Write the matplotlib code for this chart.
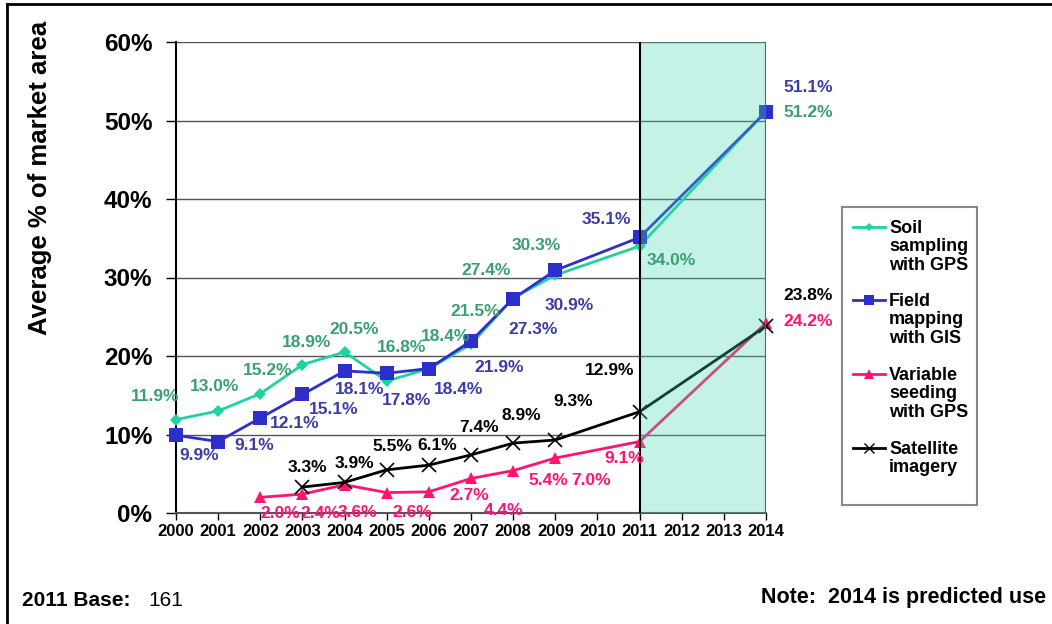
import numpy as np
import matplotlib
matplotlib.use("Agg")
import matplotlib.pyplot as plt
from matplotlib.lines import Line2D
from matplotlib.patches import Rectangle

plt.rcParams['font.family'] = ['Liberation Sans', 'DejaVu Sans']

W, H = 1052, 624
years = list(range(2000, 2015))

# survey values, % of market area
soil_years = [2000, 2001, 2002, 2003, 2004, 2005, 2006, 2007, 2008, 2009, 2011, 2014]
soil_vals = [11.9, 13.0, 15.2, 18.9, 20.5, 16.8, 18.4, 21.5, 27.4, 30.3, 34.0, 51.2]

field_years = [2000, 2001, 2002, 2003, 2004, 2005, 2006, 2007, 2008, 2009, 2011, 2014]
field_vals = [9.9, 9.1, 12.1, 15.1, 18.1, 17.8, 18.4, 21.9, 27.3, 30.9, 35.1, 51.1]

seed_years = [2002, 2003, 2004, 2005, 2006, 2007, 2008, 2009, 2011, 2014]
seed_vals = [2.0, 2.4, 3.6, 2.6, 2.7, 4.4, 5.4, 7.0, 9.1, 24.2]

sat_years = [2003, 2004, 2005, 2006, 2007, 2008, 2009, 2011, 2014]
sat_vals = [3.3, 3.9, 5.5, 6.1, 7.4, 8.9, 9.3, 12.9, 23.8]

# label offsets in pixels (dx, dy) relative to each point
soil_off = [(-21, 23), (-4, 24), (7, 23), (4, 22), (10, 23), (15, 34), (17, 32),
            (4, 33), (-27, 27), (-19, 30), (32, -14), (42, -1)]
field_off = [(23, -20), (36, -4), (34, -5), (31, -15), (15, -19), (20, -27), (30, -21),
             (28, -26), (20, -31), (14, -35), (-33, 18), (42, 24)]
seed_off = [(20, -16), (18, -19), (13, -28), (26, -20), (40, -4), (33, -32), (35, -10),
            (36, -22), (-15, -17), (42, 2)]
sat_off = [(5, 20), (10, 19), (6, 23), (8, 20), (8, 27), (8, 28), (18, 38), (-30, 41), (42, 31)]

fig = plt.figure(figsize=(W / 100, H / 100), dpi=100)
ax = fig.add_axes([176 / W, 1 - 513 / H, 590 / W, 471 / H])


def xi(ys):
    return [y - 2000 for y in ys]


def fx(px):
    return px / W


def fy(py):
    return 1 - py / H


series = [
    ("Soil\nsampling\nwith GPS", soil_years, soil_vals, soil_off, "#1fd3a0", "#3a9f72", "D", 6),
    ("Field\nmapping\nwith GIS", field_years, field_vals, field_off, "#2e2ecc", "#3c3ca8", "s", 10),
    ("Variable\nseeding\nwith GPS", seed_years, seed_vals, seed_off, "#ff1470", "#ff1470", "^", 9),
    ("Satellite\nimagery", sat_years, sat_vals, sat_off, "#000000", "#000000", "x", 10),
]

for name, ys, vals, offs, lc, tc, mk, ms in series:
    ax.plot(xi(ys), vals, color=lc, lw=2, marker=mk, ms=ms, mew=1.2 if mk == "x" else 0,
            clip_on=False, zorder=3)
    for x, v, (dx, dy) in zip(xi(ys), vals, offs):
        ax.annotate(f"{v:.1f}%", (x, v), xytext=(dx, dy), textcoords="offset pixels",
                    ha="center", va="center", fontsize=12.5, fontweight="bold", color=tc, zorder=5)

# predicted range shading
ax.axvspan(11, 14, facecolor="#3fd6ad", alpha=0.3, edgecolor="none", zorder=4)
ax.axvline(11, color="black", lw=1.5, zorder=4)
ax.axvline(14, color="#3f6f5f", lw=1.5, zorder=4)

ax.set_xlim(0, 14)
ax.set_ylim(0, 60)
ax.set_xticks(range(15))
ax.set_xticklabels([str(y) for y in years], fontsize=12, fontweight="bold")
ax.set_yticks(np.arange(0, 61, 10))
ax.set_yticklabels([f"{t}%" for t in range(0, 61, 10)], fontsize=17.5, fontweight="bold")
ax.tick_params(axis="x", length=5, width=1, pad=3)
ax.tick_params(axis="y", length=7, width=1, pad=10)
ax.yaxis.grid(True, color="#555555", lw=1)
ax.set_axisbelow(True)
for s in ["top", "right"]:
    ax.spines[s].set_visible(False)
ax.spines["left"].set_linewidth(1.5)
ax.spines["bottom"].set_linewidth(1.5)
ax.spines["bottom"].set_color("#555555")

fig.text(fx(40), fy(178), "Average % of market area", rotation=90, ha="center",
         va="center", fontsize=18.5, fontweight="bold")

# legend box with handles beside the first line of each entry
fig.add_artist(Rectangle((fx(842), fy(505)), fx(135), 298 / H, transform=fig.transFigure,
                         facecolor="white", edgecolor="#888888", lw=1.5))
legend_rows = [227, 300, 374, 448]
for (name, _, _, _, lc, _, mk, ms), ry in zip(series, legend_rows):
    fig.add_artist(Line2D([fx(853), fx(885)], [fy(ry), fy(ry)], color=lc, lw=2,
                          transform=fig.transFigure))
    fig.add_artist(Line2D([fx(869)], [fy(ry)], color=lc, marker=mk, ms=ms * 0.75,
                          mew=1 if mk == "x" else 0, transform=fig.transFigure))
    fig.text(fx(889), fy(ry - 7), name, fontsize=13, fontweight="bold", va="top",
             ha="left", linespacing=1.1)

fig.text(fx(22), fy(600), "2011 Base:", fontsize=15, fontweight="bold", va="center")
fig.text(fx(148), fy(600), "161", fontsize=15, va="center")
fig.text(fx(1046), fy(597), "Note:  2014 is predicted use", fontsize=15.5,
         fontweight="bold", ha="right", va="center")

# outer frame (left and top edges)
fig.add_artist(Line2D([fx(7), fx(7)], [0, fy(4)], color="black", lw=2,
                      transform=fig.transFigure))
fig.add_artist(Line2D([fx(7), 1], [fy(4), fy(4)], color="black", lw=2,
                      transform=fig.transFigure))

fig.savefig("out.png", dpi=100)
